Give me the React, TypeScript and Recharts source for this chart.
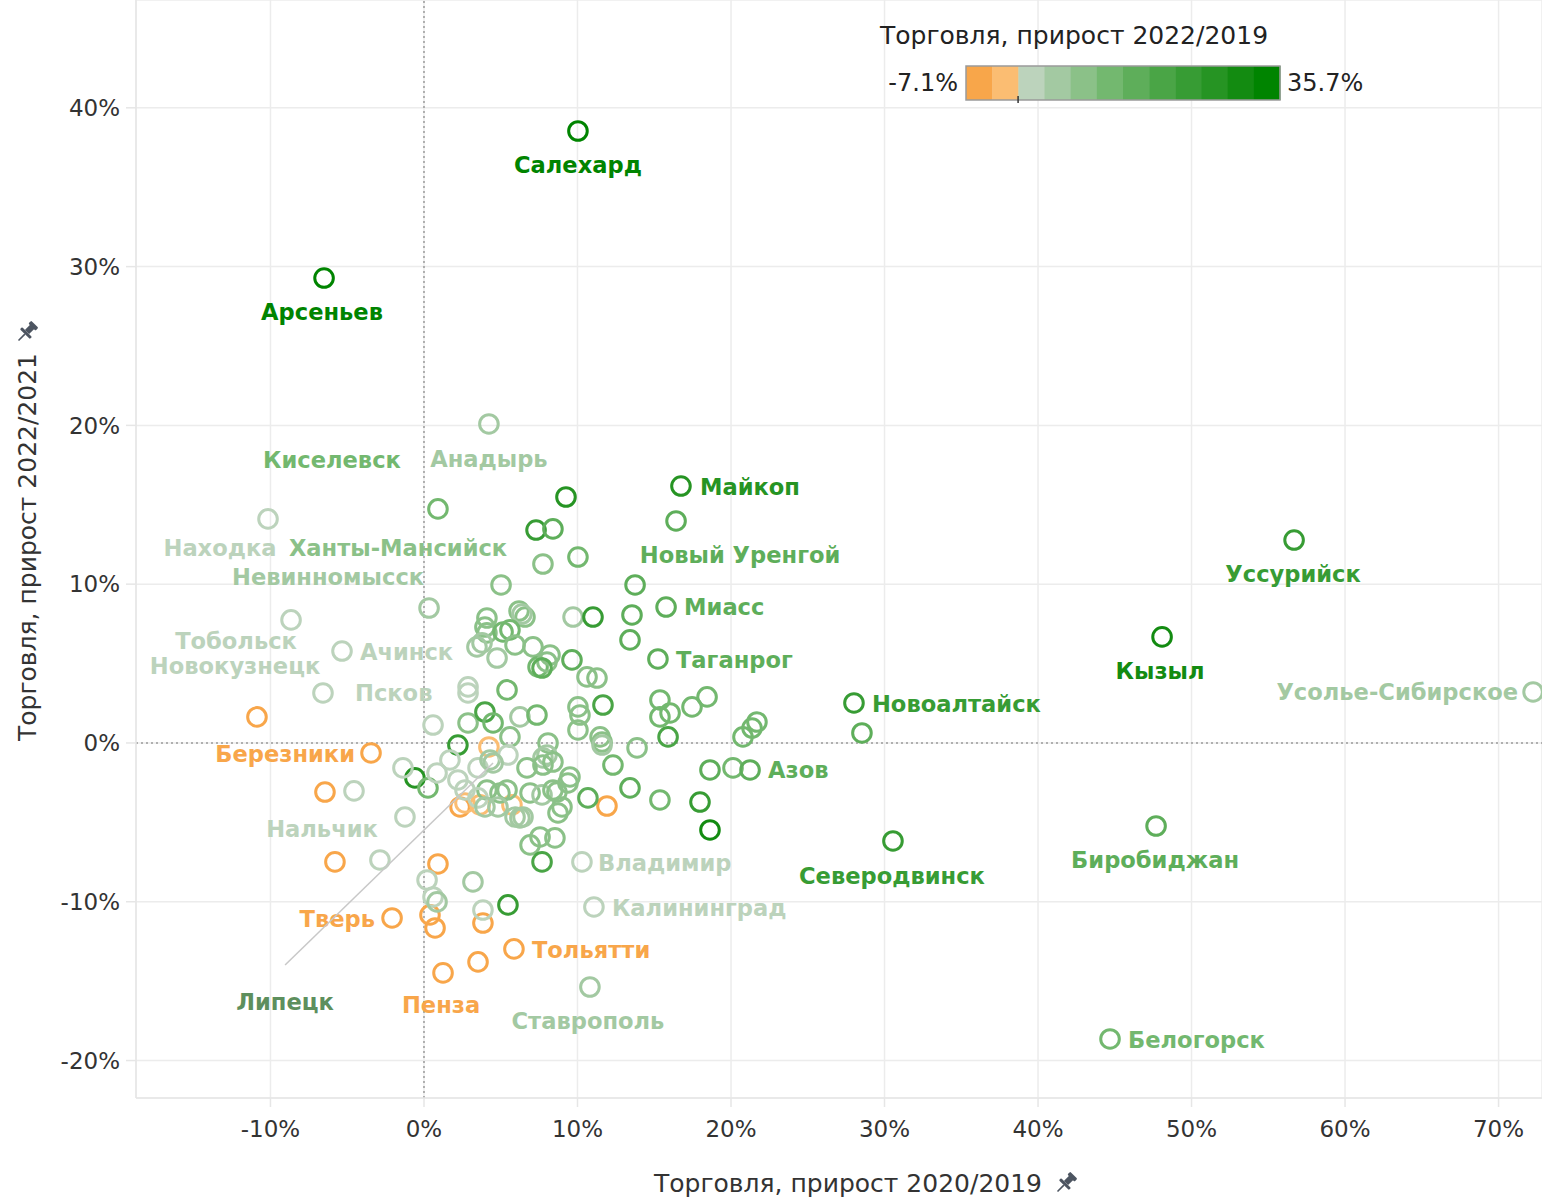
import React from "react";
import { CartesianGrid, ReferenceLine, Scatter, ScatterChart, XAxis, YAxis } from "recharts";

// labelled cities: growth 2020/2019 (x), 2022/2021 (y), 2022/2019 (colour), all in %
const cityNames = [
  "Салехард", "Арсеньев", "Анадырь", "Киселевск", "Находка", "Ханты-Мансийск",
  "Невинномысск", "Майкоп", "Новый Уренгой", "Миасс", "Таганрог", "Новоалтайск",
  "Азов", "Северодвинск", "Уссурийск", "Кызыл", "Усолье-Сибирское", "Биробиджан",
  "Белогорск", "Ставрополь", "Калининград", "Владимир", "Тольятти", "Пенза",
  "Тверь", "Березники", "Липецк", "Псков", "Ачинск", "Тобольск", "Новокузнецк", "Нальчик",
];
const cityGrowth2020 = [
  10.03, -6.51, 4.23, 0.91, -10.16, 5.02, 0.33, 16.74, 16.42, 15.77, 15.24, 28.01,
  21.24, 30.55, 56.68, 48.08, 72.25, 47.69, 44.69, 10.81, 11.07, 10.29, 5.86, 1.24,
  -2.08, -3.45, 4.5, -6.58, -5.34, -8.66, 0.59, -4.56,
];
const cityGrowth2022vs2021 = [
  38.54, 29.28, 20.09, 14.74, 14.11, 9.95, 8.5, 16.18, 13.98, 8.56, 5.29, 2.52,
  -1.7, -6.17, 12.78, 6.68, 3.21, -5.23, -18.64, -15.37, -10.33, -7.49, -12.97, -14.48,
  -11.02, -0.63, -1.26, 3.15, 5.79, 7.75, 1.13, -3.02,
];
const cityGrowth2022vs2019 = [
  35.7, 33.5, 5.8, 13.1, 2.4, 9.6, 6.1, 27.2, 16.4, 15.8, 16.2, 23.0,
  15.5, 23.6, 24.1, 30.6, 5.4, 16.8, 12.2, 6.3, 2.9, 2.6, -5.3, -5.6,
  -5.1, -4.4, 5.0, 2.2, 3.1, 2.0, 1.5, 2.7,
];

// unlabelled cities: [2020/2019, 2022/2021, 2022/2019]
const otherCities: [number, number, number][] = [
  [-10.88, 1.64, -5.2], [-6.45, -3.09, -4.8], [-5.8, -7.49, -5.4], [0.91, -7.62, -6.2],
  [0.39, -10.83, -3.8], [0.72, -11.65, -4.6], [3.84, -11.34, -4.9], [3.52, -13.79, -4.2],
  [11.92, -3.97, -4.5], [4.23, -0.25, -2.4], [2.35, -4.03, -5.0], [2.67, -3.78, -3.1],
  [3.65, -3.9, -2.2], [5.73, -3.9, -1.9],
  [9.25, 15.49, 27.0], [7.3, 13.41, 22.8], [8.4, 13.48, 16.5], [7.75, 11.27, 10.2],
  [10.03, 11.71, 13.0], [13.75, 9.95, 15.1], [4.1, 7.87, 8.4], [3.97, 7.3, 9.1],
  [6.19, 8.31, 9.8], [6.58, 7.93, 8.7], [6.38, 8.12, 7.0], [9.71, 7.93, 6.6],
  [11.01, 7.93, 23.9], [13.55, 8.06, 16.3], [13.42, 6.49, 17.1], [4.1, 6.93, 9.3],
  [3.78, 6.3, 5.9], [3.45, 6.05, 4.8], [5.15, 6.99, 12.0], [5.6, 7.12, 13.4],
  [5.93, 6.17, 8.1], [7.1, 6.05, 10.5], [7.43, 4.79, 12.8], [8.21, 5.54, 8.6],
  [8.01, 5.1, 9.7], [7.69, 4.72, 15.6], [4.76, 5.35, 4.2], [9.64, 5.23, 16.7],
  [10.62, 4.16, 8.3], [11.27, 4.09, 9.0], [2.87, 3.53, 2.1], [2.87, 3.15, 1.4],
  [5.41, 3.34, 11.9], [11.66, 2.39, 19.8], [10.03, 2.27, 8.8], [10.16, 1.76, 9.5],
  [10.03, 0.82, 10.1], [2.87, 1.26, 9.2], [3.97, 1.95, 19.1], [4.5, 1.26, 12.3],
  [6.25, 1.64, 5.6], [7.36, 1.76, 11.6], [5.6, 0.38, 9.9], [2.21, -0.13, 22.4],
  [8.08, 0.0, 8.5], [8.01, -0.76, 5.7], [7.75, -0.94, 6.4], [11.47, 0.38, 9.4],
  [11.6, 0.06, 8.2], [11.6, -0.13, 6.9], [13.88, -0.31, 9.6], [15.37, 2.71, 12.7],
  [15.37, 1.64, 13.3], [16.03, 1.89, 11.8], [15.9, 0.38, 20.1], [17.46, 2.27, 12.9],
  [18.44, 2.9, 13.6], [20.78, 0.38, 12.1], [21.37, 0.94, 12.6], [21.69, 1.32, 13.2],
  [28.53, 0.63, 16.9], [18.63, -1.7, 15.7], [20.13, -1.57, 13.5], [12.31, -1.39, 12.4],
  [13.42, -2.83, 15.9], [15.37, -3.59, 12.2], [17.98, -3.72, 22.9], [18.63, -5.48, 30.1],
  [10.68, -3.46, 16.1], [9.51, -2.14, 9.3], [9.38, -2.52, 8.0], [8.99, -4.03, 9.8],
  [-0.59, -2.2, 26.1], [0.26, -2.83, 11.4], [-1.37, -1.57, 2.5], [0.85, -1.89, 1.9],
  [1.69, -1.07, 3.0], [2.21, -2.33, 2.3], [3.52, -1.57, 1.6], [4.3, -1.07, 5.2],
  [5.47, -0.76, 3.2], [6.71, -1.57, 8.9], [7.75, -1.39, 9.1], [8.4, -1.2, 10.0],
  [2.67, -2.96, 2.8], [4.1, -2.96, 8.6], [4.95, -3.15, 9.4], [5.41, -2.96, 7.9],
  [6.91, -3.15, 9.2], [7.69, -3.27, 6.2], [8.4, -2.96, 8.4], [8.66, -3.09, 10.3],
  [3.52, -3.46, 2.0], [3.97, -4.03, 5.5], [4.82, -4.03, 4.9], [5.93, -4.66, 6.0],
  [6.25, -4.72, 5.1], [6.45, -4.66, 6.7], [8.73, -4.41, 9.6], [-1.24, -4.66, 2.6],
  [6.91, -6.42, 8.8], [7.56, -5.92, 9.5], [8.53, -5.98, 10.4], [7.69, -7.49, 19.4],
  [-2.87, -7.37, 2.2], [0.2, -8.63, 1.7], [3.19, -8.75, 4.5], [0.59, -9.7, 2.9],
  [0.85, -10.01, 5.0], [3.84, -10.52, 3.3], [5.47, -10.2, 23.4],
];

const xTicks = [-10, 0, 10, 20, 30, 40, 50, 60, 70];
const yTicks = [-20, -10, 0, 10, 20, 30, 40];
const colorMin = -7.1;
const colorMax = 35.7;
const palette = [
  "#f8a64a", "#fbbd72", "#bcd3bc", "#a3c9a2", "#8bc188", "#73b86f",
  "#5eae5a", "#4aa546", "#379c34", "#269423", "#138b11", "#008400",
];

const FONT = "'DejaVu Sans', sans-serif";

function colorFor(z: number) {
  const step = (colorMax - colorMin) / palette.length;
  const i = Math.floor((z - colorMin) / step);
  return palette[Math.max(0, Math.min(palette.length - 1, i))];
}

// where each label sits relative to its ring, in px
const labelPlacement: Record<string, { dx: number; dy: number; anchor: string; leader?: number; color?: string }> = {
  "Салехард": { dx: 0, dy: 34, anchor: "middle" },
  "Арсеньев": { dx: -2, dy: 34, anchor: "middle" },
  "Анадырь": { dx: 0, dy: 35, anchor: "middle" },
  "Киселевск": { dx: -106, dy: -49, anchor: "middle" },
  "Находка": { dx: -48, dy: 29, anchor: "middle" },
  "Ханты-Мансийск": { dx: -103, dy: -37, anchor: "middle" },
  "Невинномысск": { dx: -101, dy: -31, anchor: "middle" },
  "Майкоп": { dx: 19, dy: 1, anchor: "start" },
  "Новый Уренгой": { dx: 64, dy: 34, anchor: "middle" },
  "Миасс": { dx: 18, dy: 0, anchor: "start" },
  "Таганрог": { dx: 18, dy: 1, anchor: "start" },
  "Новоалтайск": { dx: 18, dy: 1, anchor: "start" },
  "Азов": { dx: 18, dy: 0, anchor: "start" },
  "Северодвинск": { dx: -1, dy: 35, anchor: "middle" },
  "Уссурийск": { dx: -1, dy: 34, anchor: "middle" },
  "Кызыл": { dx: -2, dy: 34, anchor: "middle" },
  "Усолье-Сибирское": { dx: -15, dy: 0, anchor: "end" },
  "Биробиджан": { dx: -1, dy: 34, anchor: "middle" },
  "Белогорск": { dx: 18, dy: 1, anchor: "start" },
  "Ставрополь": { dx: -2, dy: 34, anchor: "middle" },
  "Калининград": { dx: 18, dy: 1, anchor: "start" },
  "Владимир": { dx: 16, dy: 1, anchor: "start" },
  "Тольятти": { dx: 18, dy: 1, anchor: "start" },
  "Пенза": { dx: -2, dy: 32, anchor: "middle" },
  "Тверь": { dx: -17, dy: 1, anchor: "end" },
  "Березники": { dx: -16, dy: 1, anchor: "end" },
  "Липецк": { dx: -208, dy: 239, anchor: "middle", leader: 202, color: "#5d8f5d" },
  "Псков": { dx: 32, dy: 0, anchor: "start" },
  "Ачинск": { dx: 18, dy: 1, anchor: "start" },
  "Тобольск": { dx: -55, dy: 21, anchor: "middle" },
  "Новокузнецк": { dx: -198, dy: -59, anchor: "middle" },
  "Нальчик": { dx: -32, dy: 38, anchor: "middle" },
};

const labelled = cityNames.map((name, i) => ({
  name,
  x: cityGrowth2020[i],
  y: cityGrowth2022vs2021[i],
  z: cityGrowth2022vs2019[i],
}));
const others = otherCities.map(([x, y, z]) => ({ name: "", x, y, z }));
const allCities = [...others, ...labelled];

function Ring(props: any) {
  const { cx, cy, payload } = props;
  if (cx == null || cy == null) return <g />;
  return <circle cx={cx} cy={cy} r={9.3} fill="none" stroke={colorFor(payload.z)} strokeWidth={3} />;
}

function CityLabel(props: any) {
  const { cx, cy, payload } = props;
  const p = labelPlacement[payload.name];
  if (!p || cx == null) return <g />;
  const color = p.color ?? colorFor(payload.z);
  return (
    <g>
      {p.leader != null && (
        <line x1={cx} y1={cy} x2={cx + p.dx} y2={cy + p.leader} stroke="#c8c8c8" strokeWidth={1.5} />
      )}
      <text
        x={cx + p.dx}
        y={cy + p.dy}
        textAnchor={p.anchor}
        dominantBaseline="central"
        fontFamily={FONT}
        fontWeight="bold"
        fontSize={22.6}
        fill={color}
      >
        {payload.name}
      </text>
    </g>
  );
}

function Pin({ x, y }: { x: number; y: number }) {
  return (
    <g transform={`translate(${x},${y}) rotate(45)`} fill="#4d5561">
      <rect x={-5} y={-11} width={10} height={4} rx={1} />
      <rect x={-3} y={-8} width={6} height={8} />
      <rect x={-7} y={0} width={14} height={3} rx={1} />
      <rect x={-0.8} y={3} width={1.6} height={9} />
    </g>
  );
}

function ColorLegend() {
  const x0 = 966;
  const w = 314;
  const stepW = w / palette.length;
  const zeroX = x0 + ((0 - colorMin) / (colorMax - colorMin)) * w;
  return (
    <g fontFamily={FONT} fill="#222">
      <text x={880} y={35} fontSize={25} dominantBaseline="central">
        Торговля, прирост 2022/2019
      </text>
      {palette.map((c, i) => (
        <rect key={c} x={x0 + i * stepW} y={66} width={stepW + 0.5} height={34} fill={c} />
      ))}
      <rect x={x0} y={66} width={w} height={34} fill="none" stroke="#9a9a9a" strokeWidth={1.5} />
      <line x1={zeroX} y1={96} x2={zeroX} y2={103} stroke="#333" strokeWidth={1.5} />
      <text x={958} y={83} fontSize={24} textAnchor="end" dominantBaseline="central">
        {colorMin}%
      </text>
      <text x={1287} y={83} fontSize={24} dominantBaseline="central">
        {colorMax}%
      </text>
    </g>
  );
}

export default function App() {
  const tickStyle = { fill: "#333", fontSize: 23, fontFamily: FONT };
  return (
    <div style={{ position: "absolute", left: 0, top: 0, width: 1542, height: 1199, background: "#fff" }}>
      <ScatterChart width={1542} height={1199} margin={{ top: 0, right: 0, bottom: 0, left: 0 }}>
        <CartesianGrid stroke="#ececec" strokeWidth={1.5} />
        <XAxis
          type="number"
          dataKey="x"
          domain={[-18.76, 72.83]}
          ticks={xTicks}
          allowDataOverflow
          height={101}
          tickFormatter={(v: number) => `${v}%`}
          tick={tickStyle}
          tickSize={9}
          tickMargin={14}
          tickLine={{ stroke: "#e6e6e6", strokeWidth: 1.5 }}
          axisLine={{ stroke: "#e6e6e6", strokeWidth: 1.5 }}
        />
        <YAxis
          type="number"
          dataKey="y"
          domain={[-22.36, 46.79]}
          ticks={yTicks}
          allowDataOverflow
          width={136}
          tickFormatter={(v: number) => `${v}%`}
          tick={tickStyle}
          tickSize={10}
          tickMargin={6}
          tickLine={{ stroke: "#e6e6e6", strokeWidth: 1.5 }}
          axisLine={{ stroke: "#e6e6e6", strokeWidth: 1.5 }}
        />
        <ReferenceLine x={0} stroke="#9a9a9a" strokeWidth={1.5} strokeDasharray="2 3" />
        <ReferenceLine y={0} stroke="#9a9a9a" strokeWidth={1.5} strokeDasharray="2 3" />
        <Scatter data={allCities} shape={Ring} isAnimationActive={false} />
        <Scatter data={labelled} shape={CityLabel} isAnimationActive={false} />
      </ScatterChart>
      <svg width={1542} height={1199} style={{ position: "absolute", left: 0, top: 0, pointerEvents: "none" }}>
        <ColorLegend />
        <text
          x={848}
          y={1183}
          fontFamily={FONT}
          fontSize={25}
          fill="#333"
          textAnchor="middle"
          dominantBaseline="central"
        >
          Торговля, прирост 2020/2019
        </text>
        <Pin x={1066} y={1183} />
        <text
          x={27}
          y={547}
          fontFamily={FONT}
          fontSize={25}
          fill="#333"
          textAnchor="middle"
          dominantBaseline="central"
          transform="rotate(-90 27 547)"
        >
          Торговля, прирост 2022/2021
        </text>
        <Pin x={27} y={332} />
      </svg>
    </div>
  );
}
